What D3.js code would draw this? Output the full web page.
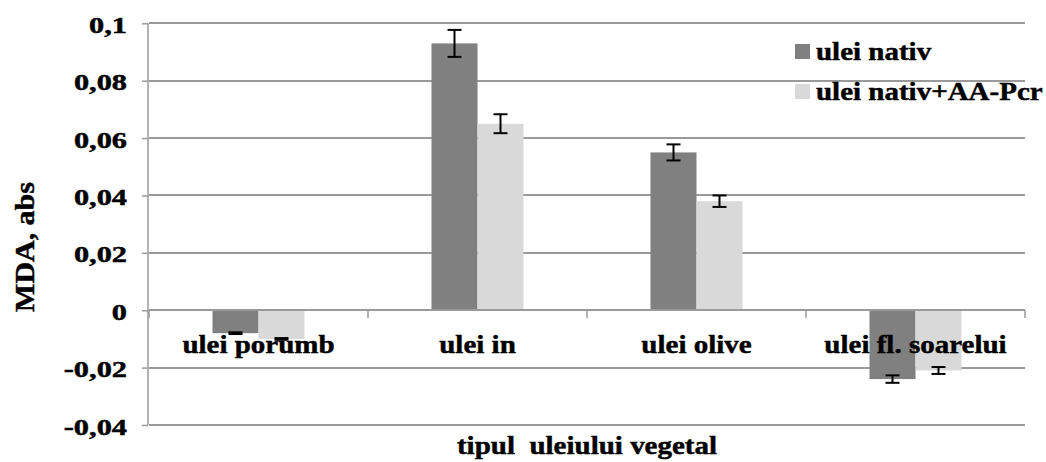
<!DOCTYPE html>
<html>
<head>
<meta charset="utf-8">
<script src="https://cdn.jsdelivr.net/npm/d3@7/dist/d3.min.js"></script>
<style>
  html, body { margin: 0; padding: 0; background: #ffffff; }
  svg { display: block; }
  text { font-family: "Liberation Serif", "Times New Roman", serif; font-weight: 700; fill: #000; }
</style>
</head>
<body>
<svg id="chart" width="1046" height="462"></svg>
<script>
// ---- data ----
const categories = ["ulei porumb", "ulei in", "ulei olive", "ulei fl. soarelui"];
const seriesNames = ["ulei nativ", "ulei nativ+AA-Pcr"];
const nativValues = [-0.008, 0.093, 0.055, -0.024];
const nativAAValues = [-0.010, 0.065, 0.038, -0.021];
const nativErrors = [0.0003, 0.0047, 0.0028, 0.0013];
const nativAAErrors = [0.0003, 0.0033, 0.0020, 0.0012];
const yTickValues = [-0.04, -0.02, 0, 0.02, 0.04, 0.06, 0.08, 0.1];
const xTitle = "tipul  uleiului vegetal";
const yTitle = "MDA, abs";

const seriesColors = ["#808080", "#d9d9d9"];
const gridColor = "#9a9a9a";

const svg = d3.select("#chart");

const plot = { left: 149, right: 1025, top: 23.3, bottom: 425 };

const x = d3.scaleBand().domain(categories).range([plot.left, plot.right]).paddingInner(0).paddingOuter(0);
const xSub = d3.scaleBand().domain(seriesNames).range([0, x.bandwidth()]).paddingInner(0).paddingOuter(1.38);
const y = d3.scaleLinear().domain([-0.04, 0.1]).range([plot.bottom, plot.top]);

const locale = d3.formatLocale({ decimal: ",", thousands: ".", grouping: [3], currency: ["", ""], minus: "-" });
const fmt = locale.format("~g");

const data = categories.map((c, i) => ({
  cat: c,
  vals: [
    { s: seriesNames[0], v: nativValues[i], e: nativErrors[i] },
    { s: seriesNames[1], v: nativAAValues[i], e: nativAAErrors[i] }
  ]
}));

// helper: stretched text
function stext(parent, str, tx, ty, size, sx, anchor, rot) {
  return parent.append("text")
    .attr("transform", `translate(${tx},${ty})` + (rot ? ` rotate(${rot})` : "") + ` scale(${sx},1)`)
    .attr("font-family", "Liberation Serif")
    .attr("font-weight", "bold")
    .attr("font-size", size)
    .attr("text-anchor", anchor)
    .attr("stroke", "#000")
    .attr("stroke-width", 0.45)
    .style("white-space", "pre")
    .text(str);
}

// gridlines
const grid = svg.append("g");
grid.selectAll("line").data(yTickValues.filter(d => d !== 0)).join("line")
  .attr("x1", plot.left).attr("x2", plot.right)
  .attr("y1", d => Math.round(y(d))).attr("y2", d => Math.round(y(d)))
  .attr("stroke", gridColor).attr("stroke-width", 2);

// bars
const groups = svg.append("g").selectAll("g").data(data).join("g")
  .attr("transform", d => `translate(${x(d.cat)},0)`);
groups.selectAll("rect").data(d => d.vals).join("rect")
  .attr("x", d => xSub(d.s))
  .attr("width", xSub.bandwidth())
  .attr("y", d => y(Math.max(0, d.v)))
  .attr("height", d => Math.abs(y(d.v) - y(0)))
  .attr("fill", (d, i) => seriesColors[i]);

// y axis
const yAxis = svg.append("g").attr("transform", `translate(${plot.left - 1},0)`)
  .call(d3.axisLeft(y).tickValues(yTickValues).tickSize(6).tickFormat(""));
yAxis.select(".domain").attr("stroke", gridColor).attr("stroke-width", 1.5).attr("d", `M0,${plot.top}V${plot.bottom}`);
yAxis.selectAll(".tick line").attr("stroke", gridColor).attr("stroke-width", 1.5);

// y tick labels
const yLab = svg.append("g");
yTickValues.forEach(v => {
  stext(yLab, fmt(v), 127, y(v) + 9.5, 23, 1.32, "end");
});

// x axis at zero
const zeroY = Math.round(y(0));
const xAxis = svg.append("g");
xAxis.append("line").attr("x1", plot.left).attr("x2", plot.right)
  .attr("y1", zeroY).attr("y2", zeroY).attr("stroke", gridColor).attr("stroke-width", 2);
const bounds = categories.map(c => x(c)).concat([x(categories[categories.length - 1]) + x.bandwidth()]);
xAxis.selectAll("line.tk").data(bounds).join("line").attr("class", "tk")
  .attr("x1", d => d).attr("x2", d => d)
  .attr("y1", zeroY).attr("y2", zeroY + 8)
  .attr("stroke", gridColor).attr("stroke-width", 1.5);

// error bars
const err = svg.append("g");
data.forEach(d => {
  d.vals.forEach(p => {
    const cx = x(d.cat) + xSub(p.s) + xSub.bandwidth() / 2;
    const y1 = y(p.v + p.e), y2 = y(p.v - p.e);
    err.append("line").attr("x1", cx).attr("x2", cx).attr("y1", y1).attr("y2", y2)
      .attr("stroke", "#000").attr("stroke-width", 2);
    [y1, y2].forEach(yy => {
      err.append("line").attr("x1", cx - 7).attr("x2", cx + 7).attr("y1", yy).attr("y2", yy)
        .attr("stroke", "#000").attr("stroke-width", 2);
    });
  });
});

// category labels
const catLab = svg.append("g");
categories.forEach(c => {
  stext(catLab, c, x(c) + x.bandwidth() / 2, 353, 25, 1.16, "middle");
});

// axis titles
stext(svg, xTitle, (plot.left + plot.right) / 2, 454, 25, 1.16, "middle");
stext(svg, yTitle, 34, 247, 28, 1.07, "middle", -90);

// legend
const legend = svg.append("g");
seriesNames.forEach((s, i) => {
  const ly = 44 + i * 40;
  legend.append("rect").attr("x", 795).attr("y", ly).attr("width", 15).attr("height", 15)
    .attr("fill", seriesColors[i]);
  stext(legend, s, 816, ly + 16, 25, 1.16, "start");
});
</script>
</body>
</html>
